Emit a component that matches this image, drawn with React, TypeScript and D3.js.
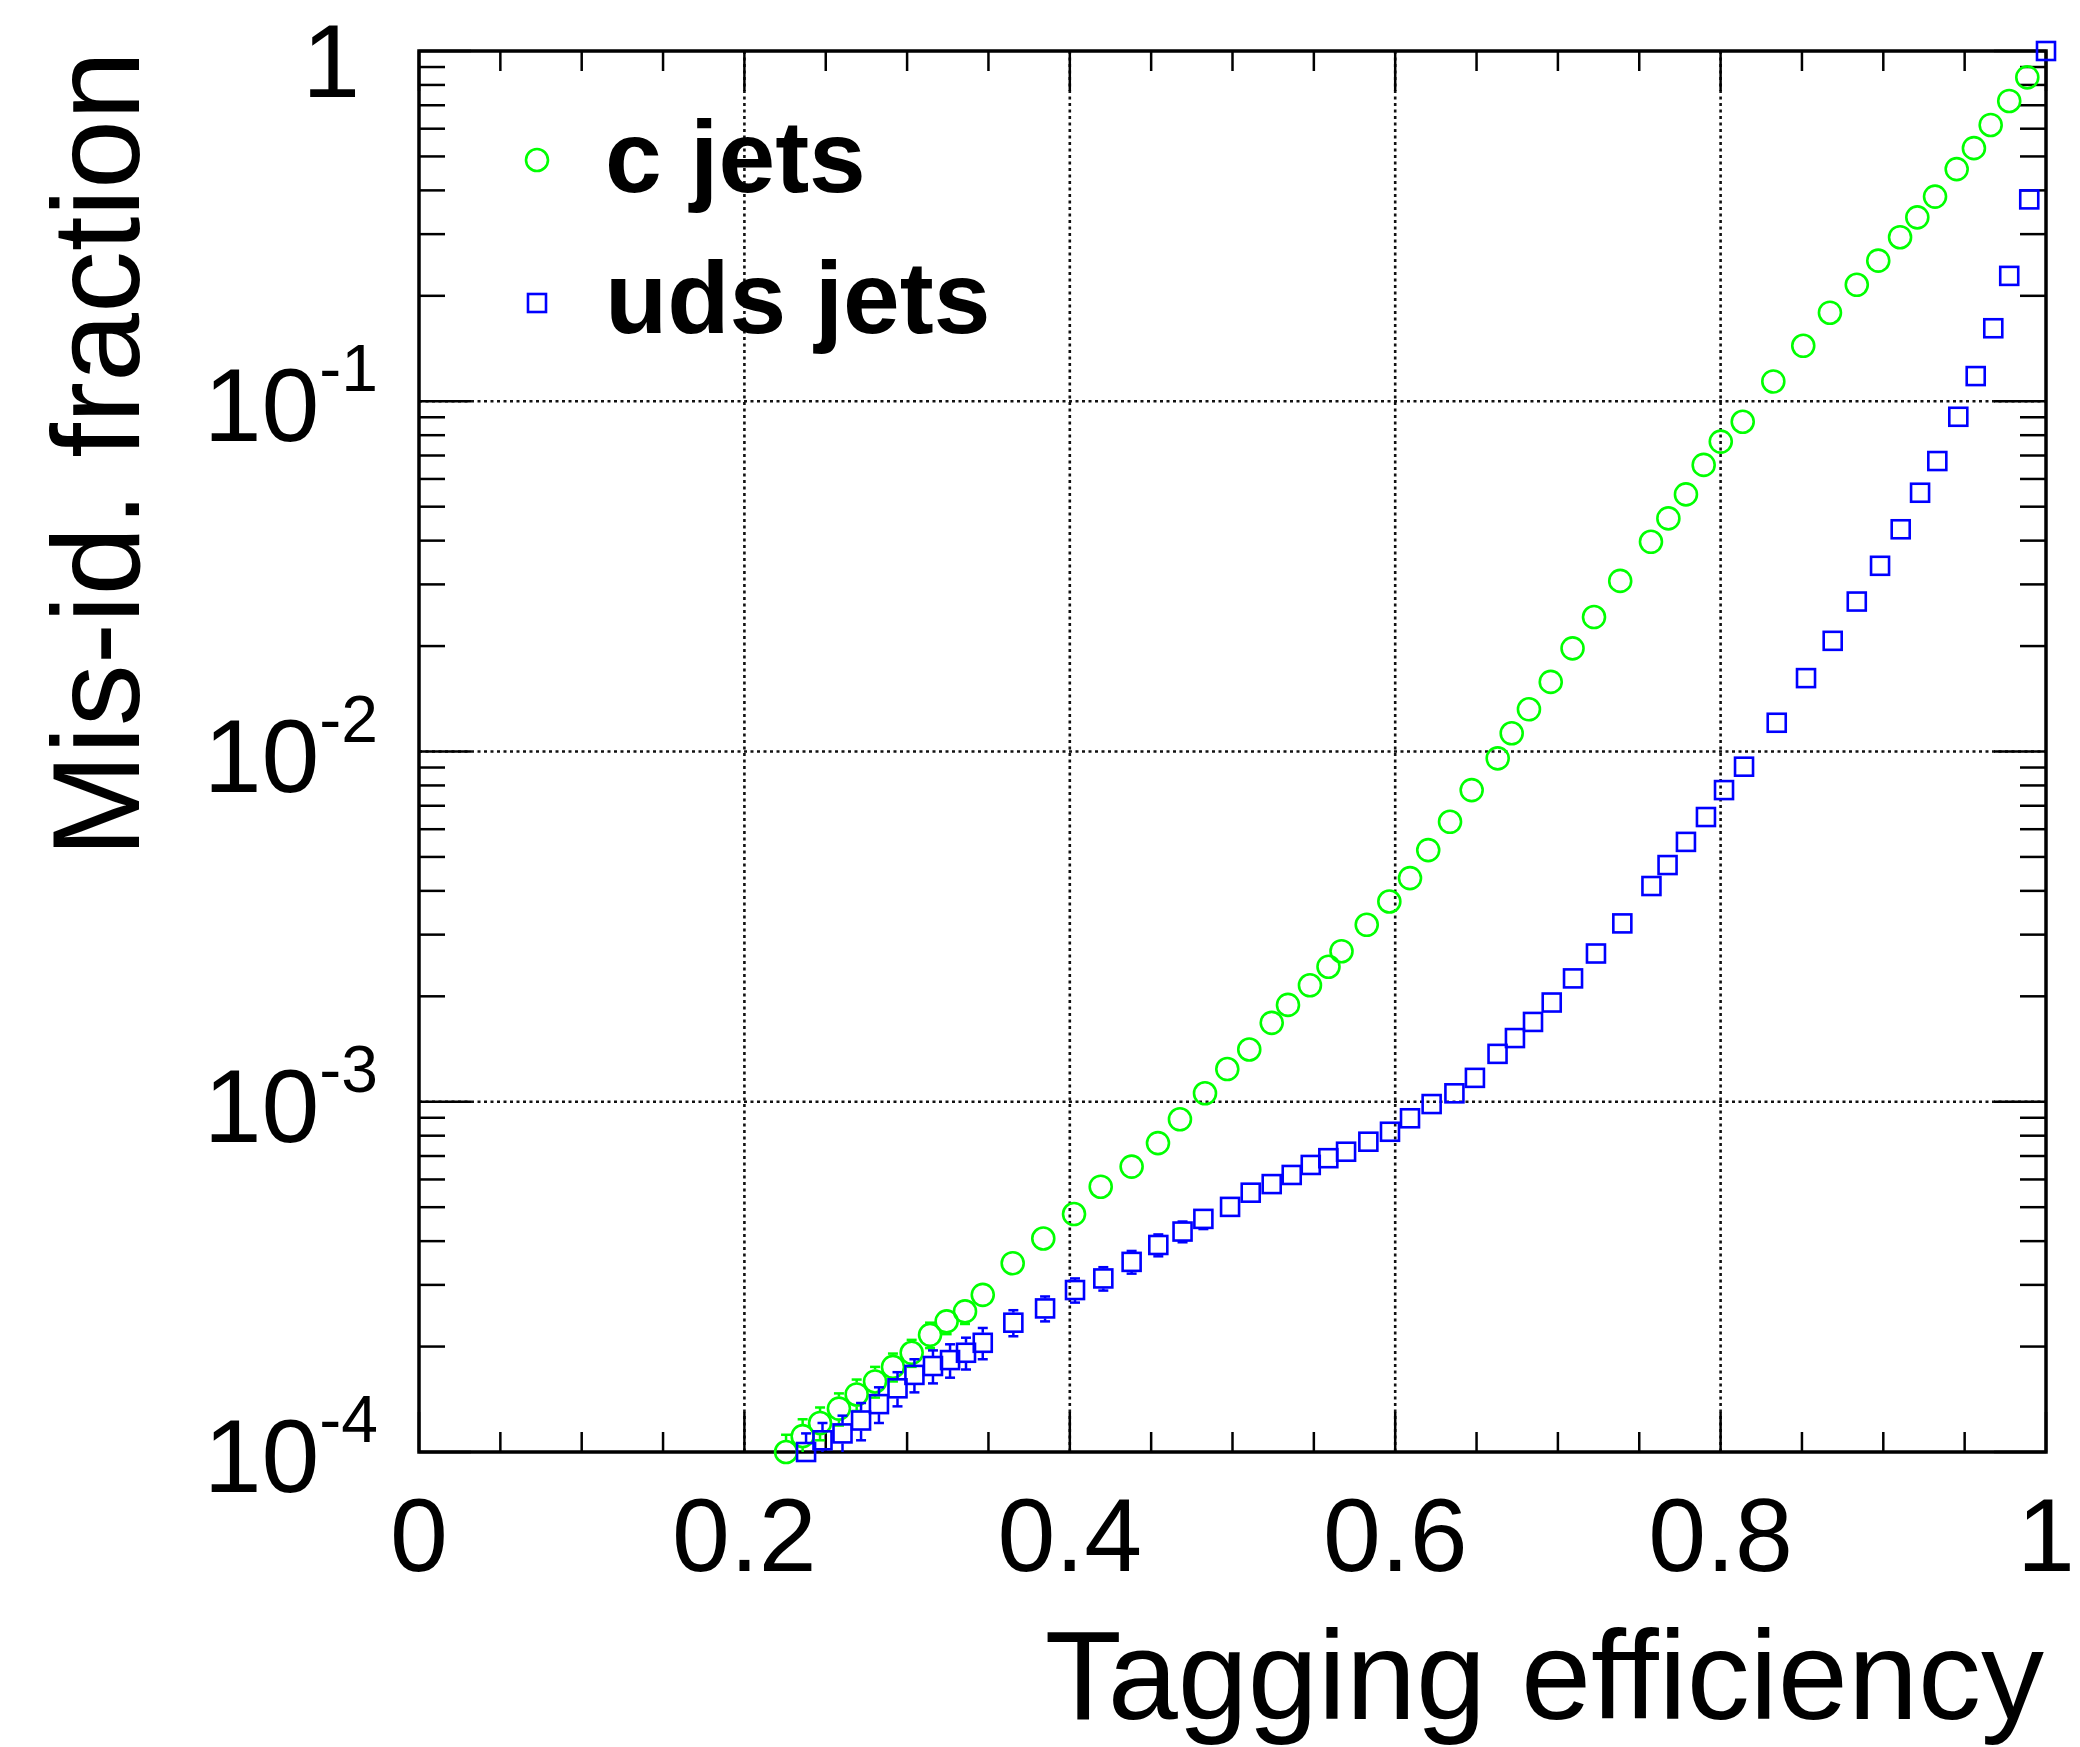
import React from "react";
import * as d3 from "d3";

const effC = [0.2256,0.2358,0.2465,0.2581,0.2690,0.2803,0.2913,0.3028,0.3141,0.3243,0.3356,0.3465,0.3649,0.3837,0.4026,0.4190,0.4380,0.4542,0.4677,0.4831,0.4968,0.5103,0.5241,0.5341,0.5476,0.5590,0.5670,0.5825,0.5964,0.6091,0.6203,0.6337,0.6470,0.6630,0.6716,0.6822,0.6956,0.7090,0.7222,0.7383,0.7572,0.7679,0.7787,0.7896,0.8001,0.8136,0.8324,0.8508,0.8672,0.8837,0.8969,0.9103,0.9209,0.9318,0.9451,0.9557,0.9660,0.9774,0.9885];
const misC = [1.00e-4,1.11e-4,1.21e-4,1.33e-4,1.46e-4,1.59e-4,1.75e-4,1.92e-4,2.16e-4,2.36e-4,2.52e-4,2.81e-4,3.46e-4,4.07e-4,4.78e-4,5.72e-4,6.53e-4,7.62e-4,8.91e-4,1.057e-3,1.24e-3,1.41e-3,1.68e-3,1.89e-3,2.15e-3,2.43e-3,2.69e-3,3.20e-3,3.73e-3,4.35e-3,5.23e-3,6.30e-3,7.76e-3,9.56e-3,1.127e-2,1.32e-2,1.58e-2,1.97e-2,2.42e-2,3.07e-2,3.97e-2,4.63e-2,5.42e-2,6.58e-2,7.67e-2,8.74e-2,0.1139,0.144,0.179,0.215,0.252,0.294,0.335,0.384,0.460,0.528,0.615,0.720,0.841];
const errC = [1.2e-5,1.3e-5,1.3e-5,1.4e-5,1.5e-5,1.6e-5,1.6e-5,1.7e-5,1.8e-5,1.9e-5,2.0e-5,2.1e-5,2.4e-5,2.6e-5,2.8e-5,3.1e-5];

const effUds = [0.2379,0.2480,0.2603,0.2717,0.2827,0.2941,0.3045,0.3159,0.3264,0.3362,0.3465,0.3653,0.3848,0.4032,0.4206,0.4380,0.4544,0.4693,0.4821,0.4985,0.5112,0.5241,0.5364,0.5481,0.5589,0.5698,0.5835,0.5968,0.6091,0.6224,0.6364,0.6490,0.6629,0.6736,0.6847,0.6962,0.7093,0.7234,0.7396,0.7575,0.7674,0.7787,0.7910,0.8021,0.8144,0.8345,0.8525,0.8689,0.8837,0.8980,0.9107,0.9226,0.9332,0.9461,0.9568,0.9676,0.9774,0.9897,1.0];
const misUds = [1.00e-4,1.08e-4,1.13e-4,1.23e-4,1.37e-4,1.52e-4,1.66e-4,1.76e-4,1.83e-4,1.92e-4,2.05e-4,2.34e-4,2.57e-4,2.90e-4,3.13e-4,3.49e-4,3.90e-4,4.26e-4,4.63e-4,5.01e-4,5.50e-4,5.82e-4,6.18e-4,6.60e-4,6.90e-4,7.20e-4,7.69e-4,8.21e-4,8.97e-4,9.85e-4,1.057e-3,1.17e-3,1.37e-3,1.52e-3,1.69e-3,1.92e-3,2.25e-3,2.65e-3,3.23e-3,4.13e-3,4.74e-3,5.52e-3,6.50e-3,7.76e-3,9.05e-3,1.208e-2,1.62e-2,2.07e-2,2.68e-2,3.39e-2,4.31e-2,5.48e-2,6.75e-2,9.03e-2,0.118,0.1616,0.228,0.377,1.0];
const errUds = [1.3e-5,1.3e-5,1.4e-5,1.5e-5,1.6e-5,1.7e-5,1.8e-5,1.9e-5,2.0e-5,2.0e-5,2.1e-5,2.0e-5,2.1e-5,2.3e-5,2.4e-5,2.6e-5,2.8e-5,2.9e-5,3.0e-5,3.1e-5];

const xMajor = [0, 0.2, 0.4, 0.6, 0.8, 1];
const xTickLabels = ["0", "0.2", "0.4", "0.6", "0.8", "1"];
const xGrid = [0.2, 0.4, 0.6, 0.8];
const yMajor = [1e-4, 1e-3, 1e-2, 1e-1, 1];
const yTickExps = ["-4", "-3", "-2", "-1", ""];
const yGrid = [1e-3, 1e-2, 1e-1];
const legendLabels = ["c jets", "uds jets"];
const xTitle = "Tagging efficiency";
const yTitle = "Mis-id. fraction";

const GREEN = "#00ff00";
const BLUE = "#0000ff";
const FONT = "'Liberation Sans', Arial, Helvetica, sans-serif";

export default function App() {
  const L = 419, R = 2046, T = 51, B = 1452;
  const x = d3.scaleLinear().domain([0, 1]).range([L, R]);
  const y = d3.scaleLog().domain([1e-4, 1]).range([B, T]);

  const xMinor = d3.range(0, 1.0001, 0.05).filter((v) => Math.abs(v / 0.2 - Math.round(v / 0.2)) > 1e-6);
  const yMinor: number[] = [];
  for (let e = -4; e < 0; e++) for (let m = 2; m <= 9; m++) yMinor.push(m * Math.pow(10, e));

  const rC = 11, hS = 9;

  const errBars = (effs: number[], vals: number[], errs: number[], color: string, half: number) =>
    errs.map((e, i) => {
      const cx = x(effs[i]);
      const cy = y(vals[i]);
      const yUp = y(vals[i] + e);
      const yDn = y(Math.max(vals[i] - e, 1e-6));
      const parts: JSX.Element[] = [];
      if (cy - yUp > half) {
        parts.push(<line key="u" x1={cx} x2={cx} y1={cy - half} y2={yUp} />);
        parts.push(<line key="uc" x1={cx - 5} x2={cx + 5} y1={yUp} y2={yUp} />);
      }
      if (yDn - cy > half) {
        parts.push(<line key="d" x1={cx} x2={cx} y1={cy + half} y2={yDn} />);
        parts.push(<line key="dc" x1={cx - 5} x2={cx + 5} y1={yDn} y2={yDn} />);
      }
      return (
        <g key={i} stroke={color} strokeWidth={2.5}>
          {parts}
        </g>
      );
    });

  return (
    <svg width={2080} height={1747} style={{ position: "absolute", left: 0, top: 0, background: "#fff" }} fontFamily={FONT}>
      <defs>
        <clipPath id="frame">
          <rect x={L} y={T} width={R - L} height={B - T} />
        </clipPath>
      </defs>
      <rect x={0} y={0} width={2080} height={1747} fill="#fff" />
      {/* grid */}
      <g stroke="#111" strokeWidth={2.6} strokeDasharray="3 3.5">
        {xGrid.map((v) => (
          <line key={"gx" + v} x1={x(v)} x2={x(v)} y1={T} y2={B} />
        ))}
        {yGrid.map((v) => (
          <line key={"gy" + v} x1={L} x2={R} y1={y(v)} y2={y(v)} />
        ))}
      </g>
      {/* ticks */}
      <g stroke="#000" strokeWidth={2.5}>
        {xMajor.map((v) => (
          <g key={"xm" + v}>
            <line x1={x(v)} x2={x(v)} y1={B} y2={B - 40} />
            <line x1={x(v)} x2={x(v)} y1={T} y2={T + 40} />
          </g>
        ))}
        {xMinor.map((v) => (
          <g key={"xn" + v}>
            <line x1={x(v)} x2={x(v)} y1={B} y2={B - 20} />
            <line x1={x(v)} x2={x(v)} y1={T} y2={T + 20} />
          </g>
        ))}
        {yMajor.map((v) => (
          <g key={"ym" + v}>
            <line x1={L} x2={L + 52} y1={y(v)} y2={y(v)} />
            <line x1={R} x2={R - 52} y1={y(v)} y2={y(v)} />
          </g>
        ))}
        {yMinor.map((v) => (
          <g key={"yn" + v}>
            <line x1={L} x2={L + 26} y1={y(v)} y2={y(v)} />
            <line x1={R} x2={R - 26} y1={y(v)} y2={y(v)} />
          </g>
        ))}
      </g>
      <rect x={L} y={T} width={R - L} height={B - T} fill="none" stroke="#000" strokeWidth={3.5} />
      {/* tick labels */}
      <g fontSize={104} fill="#000" textAnchor="middle">
        {xMajor.map((v, i) => (
          <text key={"xl" + v} x={x(v)} y={B + 119}>
            {xTickLabels[i]}
          </text>
        ))}
      </g>
      <g fontSize={104} fill="#000" textAnchor="end">
        {yMajor.map((v, i) =>
          yTickExps[i] === "" ? (
            <text key={"yl" + v} x={360} y={y(v) + 46}>1</text>
          ) : (
            <text key={"yl" + v} x={378} y={y(v) + 40}>
              10<tspan fontSize={66} dy={-50}>{yTickExps[i]}</tspan>
            </text>
          )
        )}
      </g>
      {/* axis titles */}
      <text x={2044} y={1719} fontSize={126} textAnchor="end">{xTitle}</text>
      <text transform={`translate(139,${T}) rotate(-90)`} fontSize={124} textAnchor="end">{yTitle}</text>
      {/* data */}
      <g clipPath="url(#frame)">{errBars(effC, misC, errC, GREEN, rC + 1)}</g>
      <g fill="none" stroke={GREEN} strokeWidth={2.6}>
        {effC.map((e, i) => (
          <circle key={"c" + i} cx={x(e)} cy={y(misC[i])} r={rC} />
        ))}
      </g>
      <g clipPath="url(#frame)">{errBars(effUds, misUds, errUds, BLUE, hS + 1)}</g>
      <g fill="none" stroke={BLUE} strokeWidth={2.6}>
        {effUds.map((e, i) => (
          <rect key={"s" + i} x={x(e) - hS} y={y(misUds[i]) - hS} width={2 * hS} height={2 * hS} />
        ))}
      </g>
      {/* legend */}
      <circle cx={537} cy={160} r={rC} fill="none" stroke={GREEN} strokeWidth={2.6} />
      <rect x={537 - hS} y={303 - hS} width={2 * hS} height={2 * hS} fill="none" stroke={BLUE} strokeWidth={2.6} />
      <text x={605} y={192} fontSize={102} fontWeight="bold">{legendLabels[0]}</text>
      <text x={605} y={333} fontSize={102} fontWeight="bold">{legendLabels[1]}</text>
    </svg>
  );
}
